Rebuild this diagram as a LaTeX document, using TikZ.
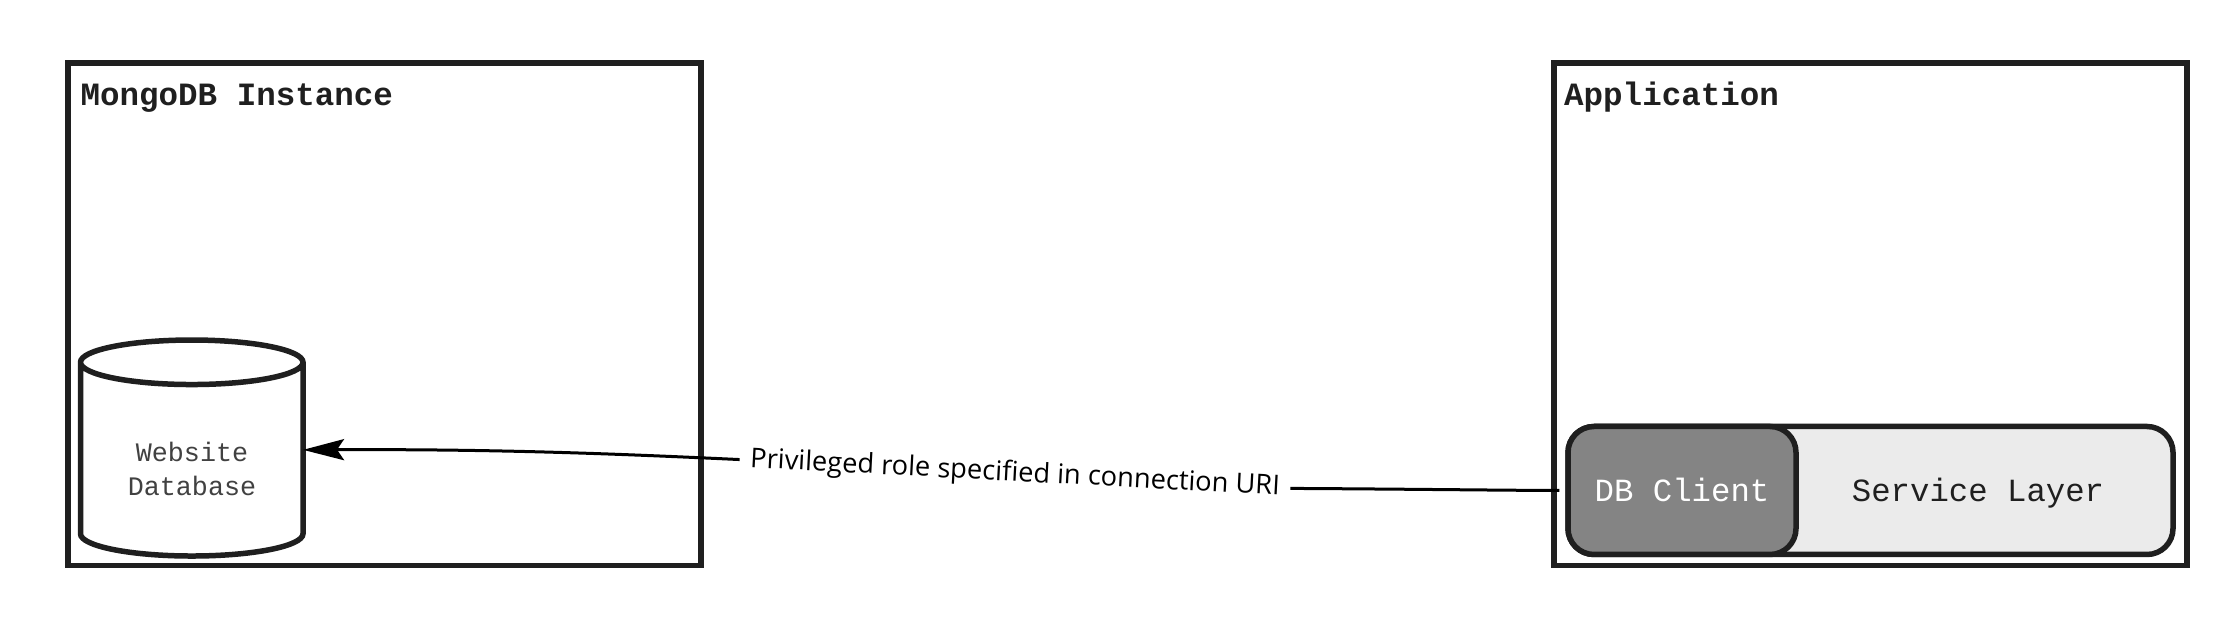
\documentclass[tikz,border=0pt]{standalone}
\usepackage{fontspec}
\setmainfont{Open Sans}
\setmonofont{Liberation Mono}
\usepackage{xcolor}
\usetikzlibrary{shapes.geometric, arrows.meta, positioning}
\definecolor{StrokeGray}{HTML}{1F1F1F}
\definecolor{ClientGray}{HTML}{848484}
\definecolor{ServiceGray}{HTML}{EBEBEB}
\tikzstyle{box} = [rectangle, draw=StrokeGray, line width=0.055cm, minimum width=6.33cm, minimum height=5.025cm]
\tikzstyle{title} = [anchor=base west, inner sep=0pt, text=StrokeGray, font=\ttfamily\bfseries\fontsize{9.25pt}{11pt}\selectfont]
\tikzstyle{layer} = [rectangle, rounded corners=0.26cm, draw=StrokeGray, line width=0.055cm, minimum height=1.28cm, font=\ttfamily\fontsize{9.2pt}{11pt}\selectfont]
\tikzstyle{store} = [cylinder, shape border rotate=90, aspect=1.9, draw=StrokeGray, fill=white, line width=0.055cm, outer sep=0pt, minimum width=2.225cm, minimum height=2.16cm]
\tikzstyle{uri} = [-{Stealth[length=0.41cm, width=0.21cm, inset=0.07cm]}, line width=0.03cm, black]

\begin{document}
\begin{tikzpicture}
   \useasboundingbox (0,0) rectangle (22.35,6.27);
   \node[box] (mongo) at (3.845,3.1275) {};
   \node[box] (app) at (18.705,3.1275) {};
   \node[title] (mongotitle) at (0.80,5.21) {MongoDB Instance};
   \node[title] (apptitle) at (15.635,5.21) {Application};
   \node[store] (website) at (1.9175,1.615) {};
   \node[align=center, text=StrokeGray!85, font=\ttfamily\fontsize{7.6pt}{9.8pt}\selectfont] (websitetext) at (1.92,1.58) {Website \\ Database};
   \node[layer, fill=ServiceGray, minimum width=6.05cm] (service) at (18.705,1.365) {};
   \node[layer, fill=ClientGray, text=white, text depth=0.02cm, minimum width=2.28cm] (client) at (16.82,1.365) {DB Client};
   \node[font=\ttfamily\fontsize{9.2pt}{11pt}\selectfont, text=StrokeGray] (servicetext) at (19.78,1.335) {Service Layer};
   \node[rotate=-3, inner xsep=0.1cm, font=\fontsize{7.75pt}{10pt}\selectfont] (urilabel) at (10.15,1.53) {Privileged role specified in connection URI};
   \draw[uri] (urilabel.west) .. controls (6.2,1.73) and (5.0,1.78) .. (website.8.5);
   \draw[line width=0.03cm, shorten <=0.06cm] (client.west) .. controls (15.2,1.365) and (14.0,1.38) .. (urilabel.east);
\end{tikzpicture}
\end{document}
